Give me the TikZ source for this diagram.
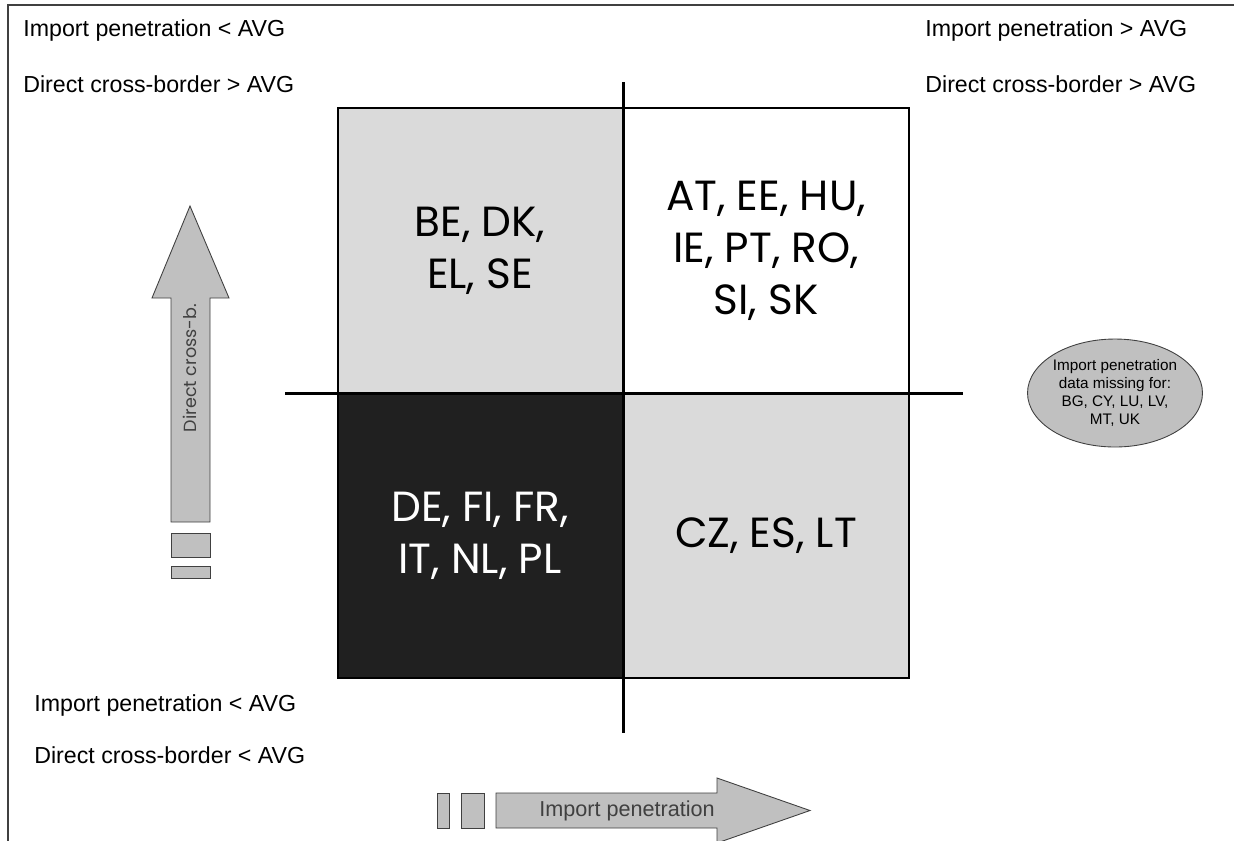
\documentclass[tikz,border=0pt]{standalone}
\usepackage{fontspec}
\setmainfont{Liberation Sans}
\newfontfamily\gothic{Poppins}
\usetikzlibrary{shapes.geometric}

\definecolor{lightq}{HTML}{DADADA}
\definecolor{darkq}{HTML}{202020}
\definecolor{arrowgray}{HTML}{C0C0C0}
\definecolor{edgegray}{HTML}{404040}

\tikzset{
  cornerlabel/.style={anchor=west, inner sep=0pt, font=\fontsize{13.2}{15}\selectfont},
  quadtext/.style={align=center, inner sep=0pt, font=\gothic\fontsize{24}{29.6}\selectfont},
  axis/.style={line width=1.7pt, black},
  fatarrow/.style={fill=arrowgray, draw=edgegray, line width=0.5pt},
  missing/.style={ellipse, fill=arrowgray, draw=edgegray, line width=0.5pt,
    minimum width=3.5cm, minimum height=2.16cm, inner xsep=-0.12cm, inner ysep=0pt, align=center,
    font=\fontsize{8.7}{10.4}\selectfont}
}

\begin{document}
\begin{tikzpicture}[x=0.02cm, y=-0.02cm]
\useasboundingbox (0,0) rectangle (1234,840);
\fill[white] (0,0) rectangle (1234,840);
\draw[edgegray, line width=0.8pt] (8,900) -- (8,5) -- (1300,5);

\fill[lightq] (338,108) rectangle (623,393);
\fill[white] (623,108) rectangle (909,393);
\fill[darkq] (338,393) rectangle (623,678);
\fill[lightq] (623,393) rectangle (909,678);
\draw[black, line width=0.7pt] (338,108) rectangle (909,678);

\coordinate (ytop) at (623,82);
\coordinate (ybot) at (623,733);
\coordinate (xleft) at (285,393);
\coordinate (xright) at (963,393);
\draw[axis] (ytop) -- (ybot);
\draw[axis] (xleft) -- (xright);

\node[quadtext] (lowhigh) at (480,251) {BE, DK,\\EL, SE};
\node[quadtext] (highhigh) at (766,251) {AT, EE, HU,\\IE, PT, RO,\\SI, SK};
\node[quadtext, white] (lowlow) at (480,536) {DE, FI, FR,\\IT, NL, PL};
\node[quadtext] (highlow) at (766,536) {CZ, ES, LT};

\node[cornerlabel] (tlimp) at (23,30) {Import penetration < AVG};
\node[cornerlabel] (tldir) at (23,84) {Direct cross-border > AVG};
\node[cornerlabel] (trimp) at (925,30) {Import penetration > AVG};
\node[cornerlabel] (trdir) at (925,84) {Direct cross-border > AVG};
\node[cornerlabel] (blimp) at (34,705) {Import penetration < AVG};
\node[cornerlabel] (bldir) at (34,755) {Direct cross-border < AVG};

\draw[fatarrow] (171,522) -- (171,298) -- (152,298) -- (190,206) -- (229,298) -- (210,298) -- (210,522) -- cycle;
\draw[fatarrow] (171,533) rectangle (210,557);
\draw[fatarrow] (171,566) rectangle (210,578);
\node[rotate=90, inner sep=0pt, font=\gothic\fontsize{10}{12}\selectfont, edgegray] (dirlabel) at (190,368) {Direct cross-b.};

\draw[fatarrow] (496,793) -- (717,793) -- (717,778) -- (810,810.5) -- (717,843) -- (717,828) -- (496,828) -- cycle;
\draw[fatarrow] (437,793) rectangle (449,828);
\draw[fatarrow] (461,793) rectangle (484,828);
\node[inner sep=0pt, font=\fontsize{12.3}{14}\selectfont, edgegray] (implabel) at (627,811) {Import penetration};

\node[missing] (nodata) at (1115,393) {Import penetration\\data missing for:\\BG, CY, LU, LV,\\MT, UK};
\end{tikzpicture}
\end{document}
